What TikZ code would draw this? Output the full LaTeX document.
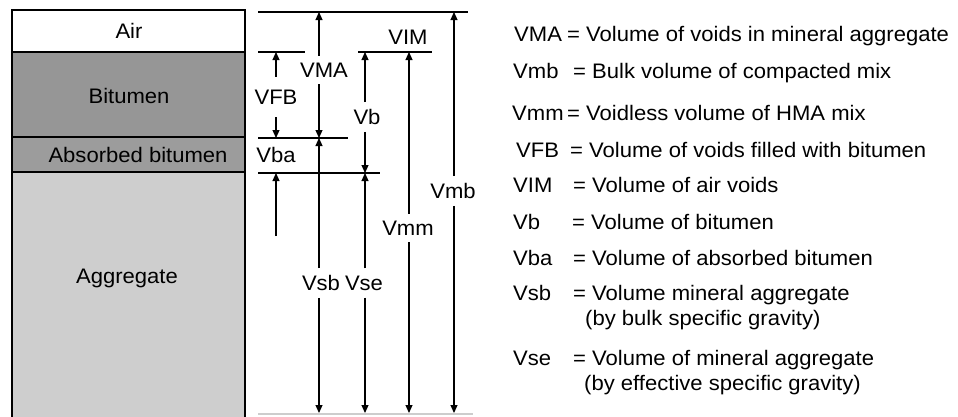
\documentclass[tikz,border=0pt]{standalone}
\usepackage{fontspec}
\setmainfont{Liberation Sans}[FakeStretch=1.05]
\usetikzlibrary{arrows.meta,positioning}
\definecolor{bitgray}{RGB}{150,150,150}
\definecolor{absgray}{RGB}{156,156,156}
\definecolor{agggray}{RGB}{206,206,206}
\definecolor{faintline}{RGB}{205,205,205}
\tikzset{
  phase/.style={draw=black,line width=2.4pt},
  ptext/.style={font=\fontsize{21}{25}\selectfont,inner sep=0pt},
  level/.style={draw=black,line width=1.2pt},
  dim/.style={-{Triangle[length=8pt,width=7pt]},draw=black,line width=1.1pt},
  dimlabel/.style={font=\fontsize{21}{25}\selectfont,inner xsep=1pt,inner ysep=7pt},
  legend/.style={anchor=base west,font=\fontsize{21}{25}\selectfont,inner sep=0pt}
}

\begin{document}
\begin{tikzpicture}[x=1pt,y=-1pt]
\useasboundingbox (0,0) rectangle (958,416);
% phase column
\draw[phase,fill=agggray] (12,172) rectangle (245,430);
\draw[phase,fill=absgray] (12,137) rectangle (245,172);
\draw[phase,fill=bitgray] (12,52) rectangle (245,137);
\draw[phase,fill=white] (12,10) rectangle (245,52);
\node[ptext] (tAir) at (129,31) {Air};
\node[ptext] (tBit) at (129,96) {Bitumen};
\node[ptext] (tAbs) at (138,155) {Absorbed bitumen};
\node[ptext] (tAgg) at (127,278) {Aggregate};
% level lines
\draw[level] (258,12) -- (468,12);
\draw[level] (258,52) -- (305,52);
\draw[level] (358,52) -- (432,52);
\draw[level] (258,138) -- (348,138);
\draw[level] (258,173) -- (380,173);
\draw[level,draw=faintline] (258,414) -- (473,414);
% arrow end points
\coordinate (cFBtop) at (276,52);
\coordinate (cFBbot) at (276,138);
\coordinate (cBAlow) at (276,236);
\coordinate (cBAbot) at (276,173);
\coordinate (cMAtop) at (319,12);
\coordinate (cMAbot) at (319,138);
\coordinate (cSBbot) at (319,413);
\coordinate (cVBtop) at (365,52);
\coordinate (cVBbot) at (365,173);
\coordinate (cSEbot) at (365,413);
\coordinate (cMMtop) at (409,52);
\coordinate (cMMbot) at (409,413);
\coordinate (cMBtop) at (454,12);
\coordinate (cMBbot) at (454,413);
% dimension labels
\node[dimlabel,inner ysep=13pt] (lVFB) at (276,97) {VFB};
\node[dimlabel] (lVMA) at (324,70) {VMA};
\node[dimlabel] (lVb) at (367,117) {Vb};
\node[dimlabel] (lVba) at (276,155) {Vba};
\node[dimlabel] (lVIM) at (408,37) {VIM};
\node[dimlabel] (lVmb) at (453,191) {Vmb};
\node[dimlabel] (lVmm) at (408,228) {Vmm};
\node[dimlabel] (lVsb) at (321,283) {Vsb};
\node[dimlabel] (lVse) at (364,283) {Vse};
% dimension arrows
\draw[dim] (lVFB.north -| cFBtop) -- (cFBtop);
\draw[dim] (lVFB.south -| cFBbot) -- (cFBbot);
\draw[dim] (cBAlow) -- (cBAbot);
\draw[dim] (lVMA.north -| cMAtop) -- (cMAtop);
\draw[dim] (lVMA.south -| cMAbot) -- (cMAbot);
\draw[dim] (lVsb.north -| cMAbot) -- (cMAbot);
\draw[dim] (lVsb.south -| cSBbot) -- (cSBbot);
\draw[dim] (lVb.north -| cVBtop) -- (cVBtop);
\draw[dim] (lVb.south -| cVBbot) -- (cVBbot);
\draw[dim] (lVse.north -| cVBbot) -- (cVBbot);
\draw[dim] (lVse.south -| cSEbot) -- (cSEbot);
\draw[dim] (lVmm.north -| cMMtop) -- (cMMtop);
\draw[dim] (lVmm.south -| cMMbot) -- (cMMbot);
\draw[dim] (lVmb.north -| cMBtop) -- (cMBtop);
\draw[dim] (lVmb.south -| cMBbot) -- (cMBbot);
% legend
\node[legend] (kVMA) at (514,41) {VMA};
\node[legend] (dVMA) at (567,41) {= Volume of voids in mineral aggregate};
\node[legend] (kVmb) at (513,78) {Vmb};
\node[legend] (dVmb) at (573,78) {= Bulk volume of compacted mix};
\node[legend] (kVmm) at (512,120) {Vmm};
\node[legend] (dVmm) at (567,120) {= Voidless volume of HMA mix};
\node[legend] (kVFB) at (516,157) {VFB};
\node[legend] (dVFB) at (570,157) {= Volume of voids filled with bitumen};
\node[legend] (kVIM) at (513,192) {VIM};
\node[legend] (dVIM) at (573,192) {= Volume of air voids};
\node[legend] (kVb) at (513,229) {Vb};
\node[legend] (dVb) at (572,229) {= Volume of bitumen};
\node[legend] (kVba) at (513,265) {Vba};
\node[legend] (dVba) at (573,265) {= Volume of absorbed bitumen};
\node[legend] (kVsb) at (513,300) {Vsb};
\node[legend] (dVsb) at (573,300) {= Volume mineral aggregate};
\node[legend] (eVsb) at (585,325) {(by bulk specific gravity)};
\node[legend] (kVse) at (513,365) {Vse};
\node[legend] (dVse) at (573,365) {= Volume of mineral aggregate};
\node[legend] (eVse) at (584,390) {(by effective specific gravity)};
\end{tikzpicture}
\end{document}
